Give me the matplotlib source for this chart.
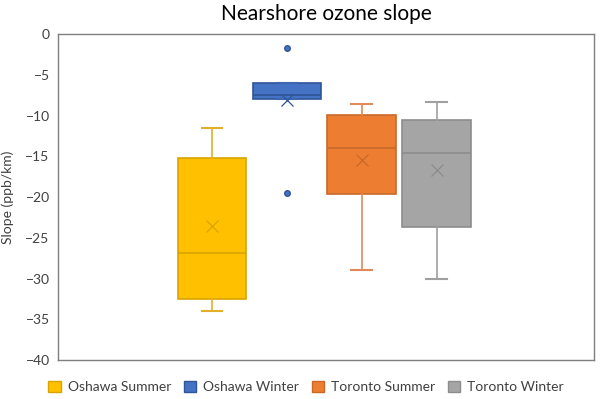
import matplotlib.pyplot as plt
from matplotlib.patches import Patch

plt.rcParams['font.family'] = ['Lato', 'DejaVu Sans']

series = ["Oshawa Summer", "Oshawa Winter", "Toronto Summer", "Toronto Winter"]
whisker_low = [-34.0, -7.94, -28.96, -30.06]
q1 = [-32.5, -7.94, -19.67, -23.64]
median = [-26.9, -7.44, -14.0, -14.6]
q3 = [-15.25, -5.97, -9.94, -10.5]
whisker_high = [-11.5, -5.97, -8.55, -8.3]
mean = [-23.5, -8.1, -15.4, -16.7]
outliers = [[], [-1.72, -19.47], [], []]

fills = ["#FFC000", "#4472C4", "#ED7D31", "#A5A5A5"]
edges = ["#D9A400", "#2F5597", "#C8692A", "#8C8C8C"]
whisk = ["#E2B028", "#3E66B0", "#E08A5A", "#A0A0A0"]

fig = plt.figure(figsize=(6, 3.99), dpi=100)
ax = fig.add_axes([58 / 600, 39 / 399, 536 / 600, 326 / 399])

for i, name in enumerate(series):
    stats = [{
        "whislo": whisker_low[i], "q1": q1[i], "med": median[i],
        "q3": q3[i], "whishi": whisker_high[i], "mean": mean[i],
        "fliers": outliers[i],
    }]
    ax.bxp(stats, positions=[i], widths=0.91, patch_artist=True,
           showmeans=True, manage_ticks=False,
           boxprops=dict(facecolor=fills[i], edgecolor=edges[i], linewidth=1.2),
           medianprops=dict(color=edges[i], linewidth=1.2),
           whiskerprops=dict(color=whisk[i], linewidth=1.2),
           capprops=dict(color=whisk[i], linewidth=1.5),
           capwidths=0.27,
           meanprops=dict(marker="x", markeredgecolor=edges[i], markersize=8,
                          markeredgewidth=0.9, linestyle="none"),
           flierprops=dict(marker="o", markerfacecolor=fills[i],
                           markeredgecolor=edges[i], markersize=4))

ax.set_xlim(-2.05, 5.10)
ax.set_ylim(-40, 0)
ax.set_yticks(range(-40, 1, 5))
ax.set_xticks([])
ax.tick_params(axis="y", length=0, labelsize=10, pad=6, colors="#404040")
for s in ax.spines.values():
    s.set_color("#7F7F7F")
    s.set_linewidth(1.0)
ax.set_ylabel("Slope (ppb/km)", fontsize=10, color="#404040", labelpad=8)
ax.set_title("Nearshore ozone slope", fontsize=15, color="#000000", pad=10)

handles = [Patch(facecolor=f, edgecolor=e, label=n) for f, e, n in zip(fills, edges, series)]
fig.legend(handles=handles, loc="center", bbox_to_anchor=(0.51, 0.03), ncol=4,
           frameon=False, fontsize=10, handlelength=0.9, handleheight=0.9,
           handletextpad=0.5, columnspacing=0.9, labelcolor="#404040")

fig.savefig("out.png", dpi=100)
plt.close(fig)
